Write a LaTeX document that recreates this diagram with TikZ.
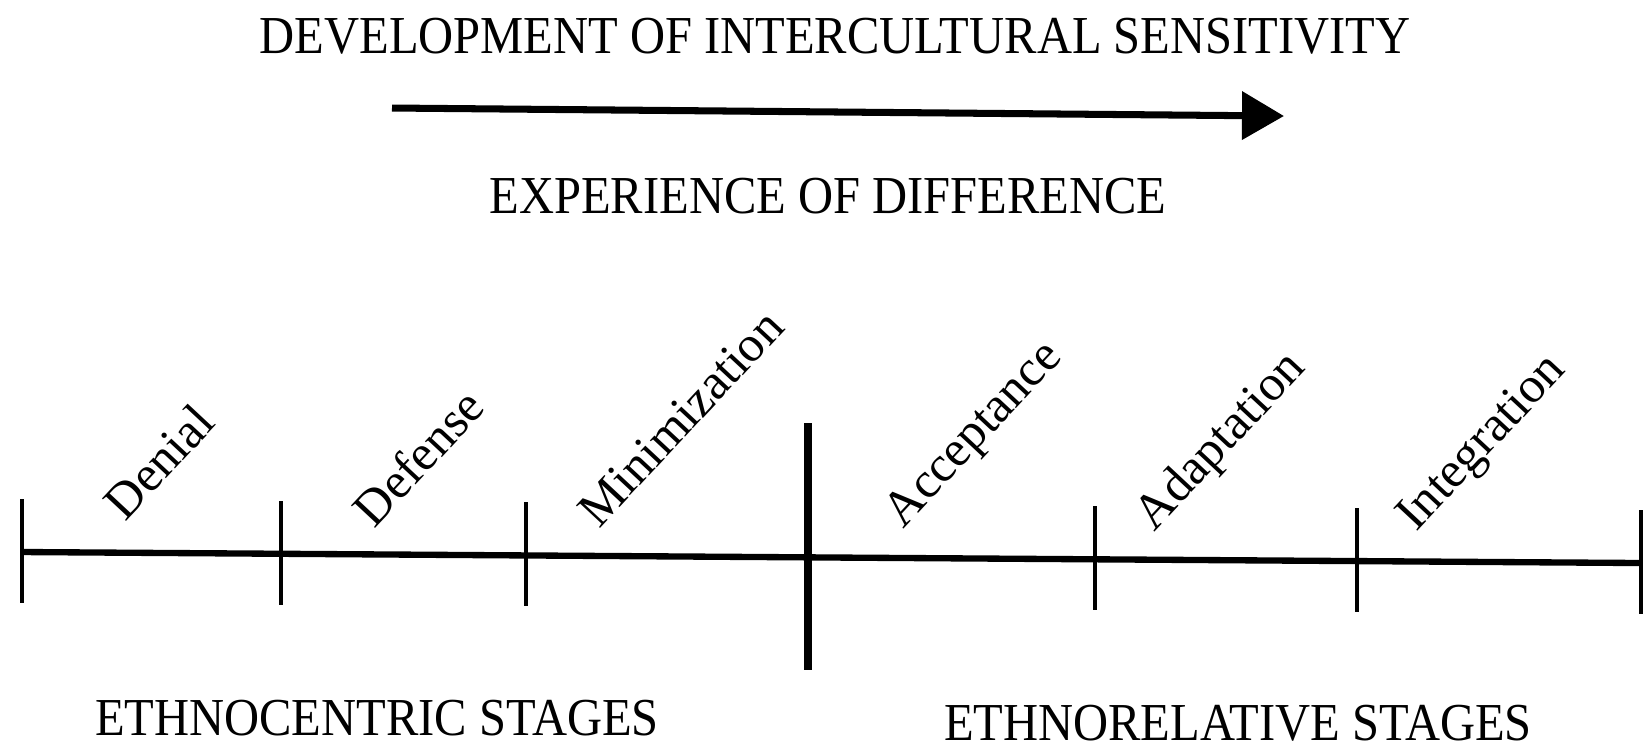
\documentclass[tikz,border=0pt]{standalone}
\usepackage{fontspec}
\setmainfont{Liberation Serif}
\usetikzlibrary{arrows.meta}

\begin{document}
\begin{tikzpicture}[x=0.01cm, y=-0.01cm,
    every node/.style={inner sep=0pt, font=\fontsize{13.8}{16}\selectfont},
    heading/.style={anchor=base, yscale=1.1},
    stage/.style={rotate=47, anchor=base west, font=\fontsize{14.3}{16}\selectfont},
    tick/.style={line width=1.2pt}]
    \useasboundingbox (0,0) rectangle (1648,753);
    \node[heading] (title) at (835, 53) {DEVELOPMENT OF INTERCULTURAL SENSITIVITY};
    \coordinate (a1) at (392, 108);
    \coordinate (a2) at (1284, 116);
    \draw[line width=2pt, -{Triangle[length=0.42cm, width=0.47cm]}] (a1) -- (a2);
    \node[heading] (exp) at (828, 213) {EXPERIENCE OF DIFFERENCE};
    % points on the scale
    \foreach \x/\y [count=\i] in {22/552, 281/554, 526/555, 808/557, 1095/559, 1357/561, 1641/563}{
        \coordinate (t\i) at (\x, \y);
    }
    \draw[line width=1.8pt] (t1) -- (t7);
    \foreach \i in {1,2,3,5,6,7}{
        \draw[tick] (t\i) ++(0,-53) -- ++(0,104);
    }
    \draw[line width=2.1pt] (t4) ++(0,-134) -- ++(0,247);
    % stage names
    \foreach \x/\y/\name [count=\i] in {125/523/Denial, 374/530/Defense, 599/530/Minimization, 903/530/Acceptance, 1154/533/Adaptation, 1416/533/Integration}{
        \node[stage] (s\i) at (\x, \y) {\name};
    }
    \node[heading] (ethc) at (377, 735) {ETHNOCENTRIC STAGES};
    \node[heading] (ethr) at (1238, 740) {ETHNORELATIVE STAGES};
\end{tikzpicture}
\end{document}
